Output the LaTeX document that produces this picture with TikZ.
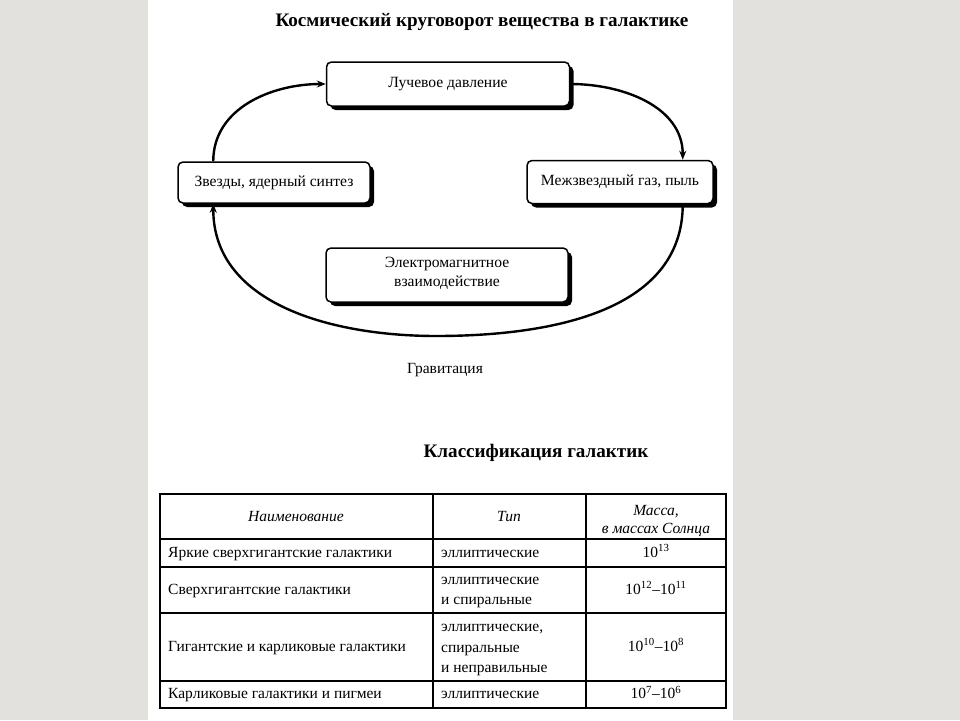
\documentclass[tikz,border=0pt]{standalone}
\usepackage{fontspec}
\setmainfont{Liberation Serif}
\usetikzlibrary{arrows.meta,shadows}
\definecolor{bggray}{RGB}{226,225,222}
\tikzset{
  struts/.style={execute at begin node=\strut, execute at end node=\strut},
  cbox/.style={draw, line width=1.5pt, rounded corners=5pt, fill=white, inner sep=0pt,
    align=center, font=\fontsize{15.6}{19.5}\selectfont, struts,
    drop shadow={shadow xshift=4pt, shadow yshift=-4pt, fill=black, opacity=1}},
  arr/.style={line width=2.4pt, -{Stealth[length=9pt,width=7pt]}},
  headtxt/.style={font=\bfseries\fontsize{19.1}{22}\selectfont, inner sep=0pt},
  plain/.style={font=\fontsize{15.5}{18}\selectfont, inner sep=0pt},
  cell/.style={font=\fontsize{15.5}{20.3}\selectfont, inner sep=0pt, align=left, anchor=west, struts},
  cellc/.style={font=\fontsize{15.5}{20.3}\selectfont, inner sep=0pt, align=center, struts},
  outer/.style={line width=1.6pt},
  inner/.style={line width=1.2pt}
}
\begin{document}
\begin{tikzpicture}[x=1pt,y=-1pt]
\useasboundingbox (0,0) rectangle (960,720);
\fill[bggray] (0,0) rectangle (960,720);
\fill[white] (148,0) rectangle (733,720);

% title
\node[headtxt] (title) at (482,22) {Космический круговорот вещества в галактике};

% boxes
\node[cbox, minimum width=243pt, minimum height=44pt] (top) at (448,84) {Лучевое давление};
\node[cbox, minimum width=192pt, minimum height=41pt] (left) at (274,182.5) {Звезды, ядерный синтез};
\node[cbox, minimum width=186pt, minimum height=43pt] (right) at (620,182) {Межзвездный газ, пыль};
\node[cbox, minimum width=242pt, minimum height=54pt] (bottom) at (447,275) {Электромагнитное\\взаимодействие};

% cycle arrows
\draw[arr] ([xshift=36pt]left.north west) to[out=90,in=180] (top.west);
\draw[arr] (top.east) to[out=0,in=90] ([xshift=-31pt]right.north east);
\coordinate (gbot) at (436,336);
\draw[arr] ([xshift=-31pt]right.south east) to[out=-90,in=0] (gbot) to[out=180,in=-90] ([xshift=36pt]left.south west);

\node[plain] (grav) at (445,370) {Гравитация};

\node[headtxt] (ctitle) at (536,453) {Классификация галактик};

% table
\draw[outer] (160,494) rectangle (726,708);
\draw[inner] (433,494) -- (433,708);
\draw[inner] (586,494) -- (586,708);
\draw[inner] (160,539) -- (726,539);
\draw[inner] (160,567) -- (726,567);
\draw[inner] (160,613) -- (726,613);
\draw[inner] (160,681) -- (726,681);

\node[cellc, font=\itshape\fontsize{15.5}{20.3}\selectfont] (h1) at (296,517) {Наименование};
\node[cellc, font=\itshape\fontsize{15.5}{20.3}\selectfont] (h2) at (509,517) {Тип};
\node[cellc, font=\itshape\fontsize{15.5}{18.5}\selectfont] (h3) at (656,522) {Масса,\\в массах Солнца};

\node[cell] (r1a) at (168,553) {Яркие сверхгигантские галактики};
\node[cell] (r1b) at (441,553) {эллиптические};
\node[cellc] (r1c) at (656,553) {10\textsuperscript{13}};

\node[cell] (r2a) at (168,590) {Сверхгигантские галактики};
\node[cell] (r2b) at (441,594) {эллиптические\\и спиральные};
\node[cellc] (r2c) at (656,590) {10\textsuperscript{12}–10\textsuperscript{11}};

\node[cell] (r3a) at (168,647) {Гигантские и карликовые галактики};
\node[cell] (r3b) at (441,651.5) {эллиптические,\\спиральные\\и неправильные};
\node[cellc] (r3c) at (656,647) {10\textsuperscript{10}–10\textsuperscript{8}};

\node[cell] (r4a) at (168,694.5) {Карликовые галактики и пигмеи};
\node[cell] (r4b) at (441,694.5) {эллиптические};
\node[cellc] (r4c) at (656,694.5) {10\textsuperscript{7}–10\textsuperscript{6}};
\end{tikzpicture}
\end{document}
